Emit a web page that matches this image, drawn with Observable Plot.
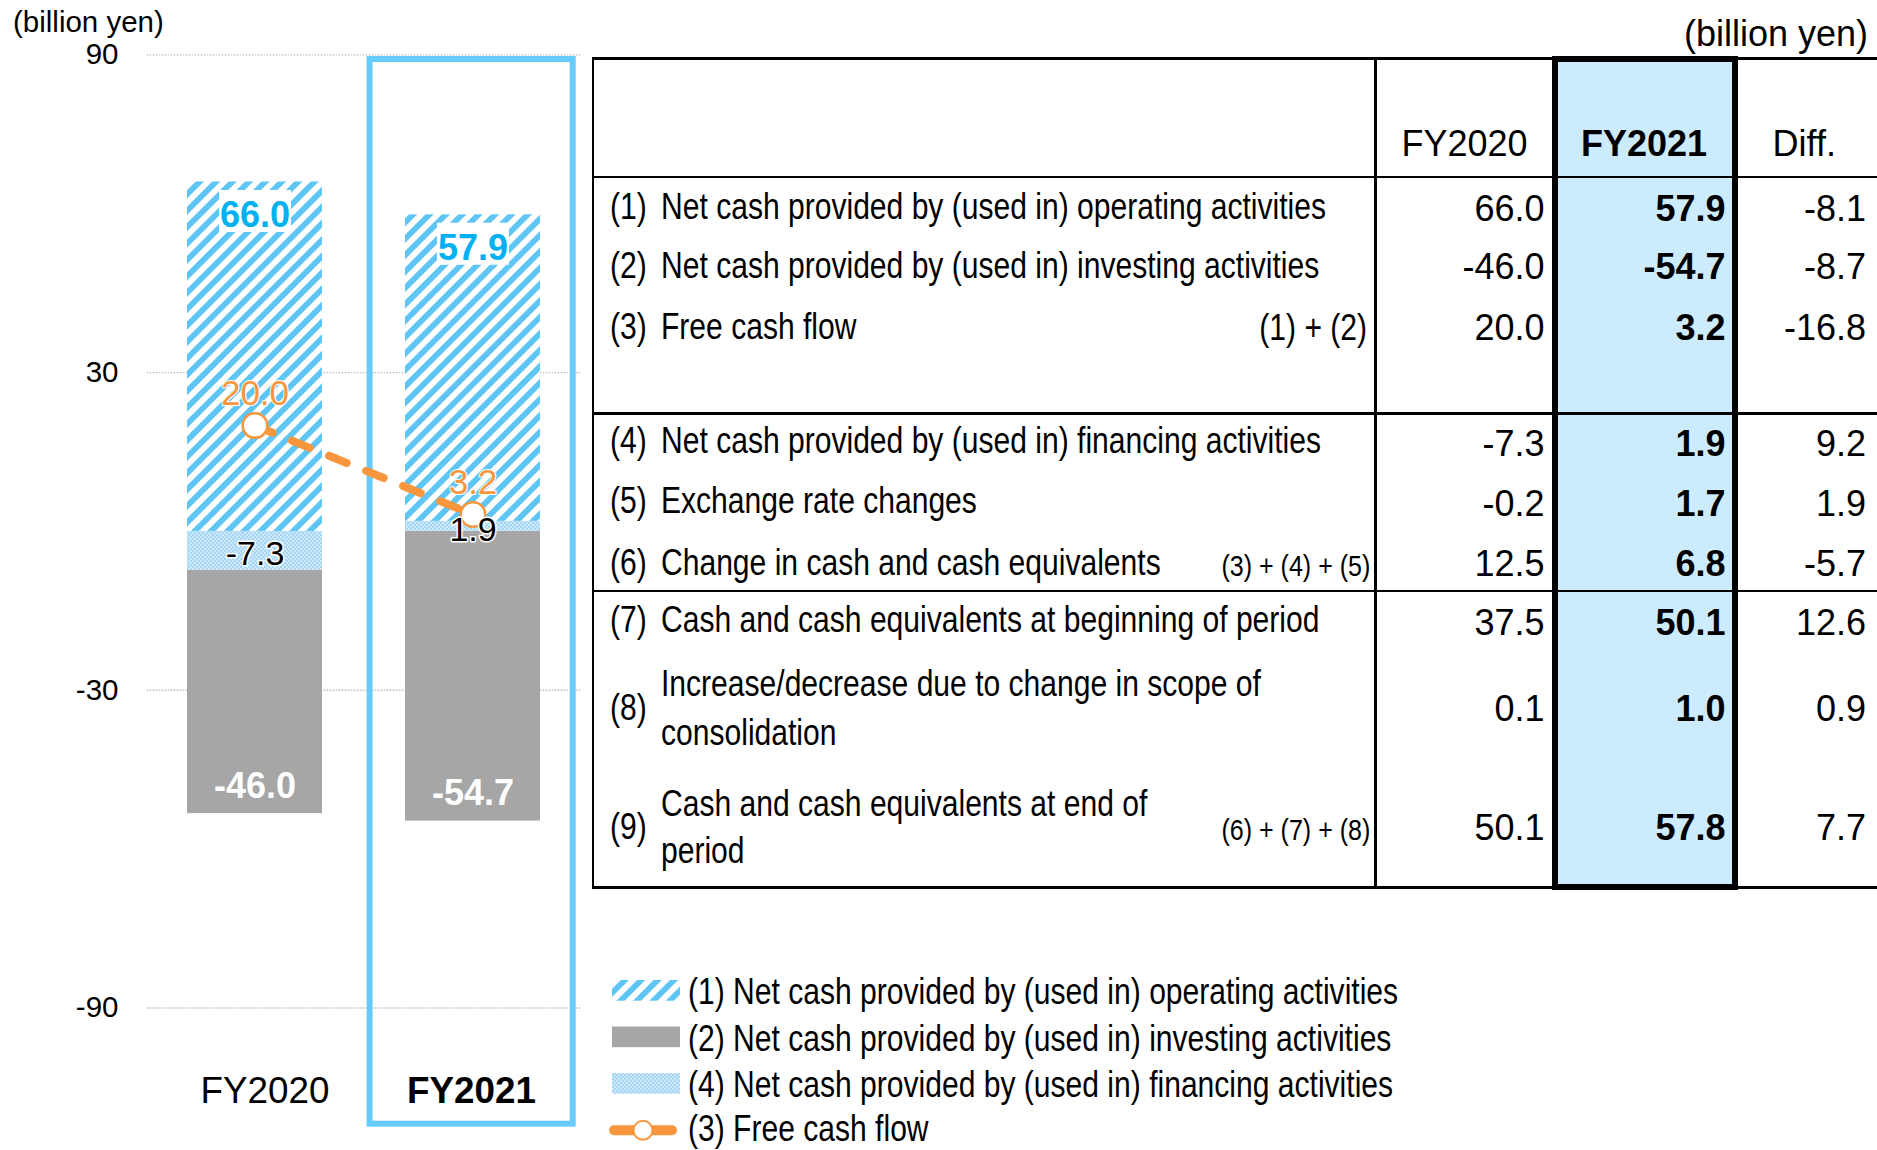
<!DOCTYPE html>
<html>
<head>
<meta charset="utf-8">
<script src="https://cdn.jsdelivr.net/npm/d3@7"></script>
<script src="https://cdn.jsdelivr.net/npm/@observablehq/plot@0.6"></script>
<style>
html, body { margin: 0; padding: 0; background: #fff; }
#root { position: relative; width: 1877px; height: 1150px; overflow: hidden;
  font-family: "Liberation Sans", Arial, Helvetica, sans-serif; color: #000; background: #fff; }
#chart { position: absolute; left: 0; top: 0; }
.t { position: absolute; white-space: pre; }
</style>
</head>
<body>
<div id="root"><div id="chart"></div></div>
<script>
// ---------------- Chart data ----------------
const categories = ["FY2020", "FY2021"];
const highlightCategory = "FY2021";
const operatingCF = [66.0, 57.9];
const investingCF = [-46.0, -54.7];
const financingCF = [-7.3, 1.9];
const freeCF = [20.0, 3.2];
const yDomain = [-90, 90];
const yTicks = [90, 30, -30, -90];
const seriesKeys = ["operating", "investing", "financing"];
const stackOrder = ["financing", "operating", "investing"];
const unitLabel = "(billion yen)";

// ---------------- Table data ----------------
const tableHeaders = ["FY2020", "FY2021", "Diff."];
const rowNumbers = ["(1)", "(2)", "(3)", "(4)", "(5)", "(6)", "(7)", "(8)", "(9)"];
const rowLabels = [
  "Net cash provided by (used in) operating activities",
  "Net cash provided by (used in) investing activities",
  "Free cash flow",
  "Net cash provided by (used in) financing activities",
  "Exchange rate changes",
  "Change in cash and cash equivalents",
  "Cash and cash equivalents at beginning of period",
  "Increase/decrease due to change in scope of\nconsolidation",
  "Cash and cash equivalents at end of\nperiod"
];
const rowFormulas = ["", "", "(1) + (2)", "", "", "(3) + (4) + (5)", "", "", "(6) + (7) + (8)"];
const colFY2020 = ["66.0", "-46.0", "20.0", "-7.3", "-0.2", "12.5", "37.5", "0.1", "50.1"];
const colFY2021 = ["57.9", "-54.7", "3.2", "1.9", "1.7", "6.8", "50.1", "1.0", "57.8"];
const colDiff = ["-8.1", "-8.7", "-16.8", "9.2", "1.9", "-5.7", "12.6", "0.9", "7.7"];

// ---------------- Legend ----------------
const legendLabels = [
  "(1) Net cash provided by (used in) operating activities",
  "(2) Net cash provided by (used in) investing activities",
  "(4) Net cash provided by (used in) financing activities",
  "(3) Free cash flow"
];

// ---------------- Styles ----------------
const STRIPE = "#5ec5f5", GRAY = "#a6a6a6", DOTBG = "#a6d6f5", ORANGE = "#f7963c",
      LBLUE = "#00b0f0", FRAME = "#66ccff", TFILL = "#ccecfe";
const NARROW = 0.835;
const HP = 11.6; // hatch period

function patternDefs(sel, prefix) {
  const defs = sel.append("defs");
  const h = defs.append("pattern").attr("id", prefix + "hatch")
    .attr("patternUnits", "userSpaceOnUse").attr("width", HP).attr("height", HP)
    .attr("patternTransform", "rotate(45)");
  h.append("rect").attr("width", HP).attr("height", HP).attr("fill", "#fff");
  h.append("rect").attr("width", HP * 0.5).attr("height", HP).attr("fill", STRIPE);
  const d = defs.append("pattern").attr("id", prefix + "dots")
    .attr("patternUnits", "userSpaceOnUse").attr("width", 4).attr("height", 4);
  d.append("rect").attr("width", 4).attr("height", 4).attr("fill", DOTBG);
  d.append("circle").attr("cx", 1).attr("cy", 1).attr("r", 0.8).attr("fill", "#fff");
  d.append("circle").attr("cx", 3).attr("cy", 3).attr("r", 0.8).attr("fill", "#fff");
}

// ---------------- Build chart ----------------
const seriesValues = {operating: operatingCF, investing: investingCF, financing: financingCF};
const barData = categories.flatMap((c, i) =>
  seriesKeys.map(s => ({category: c, series: s, value: seriesValues[s][i]})));
const fcfData = categories.map((c, i) => ({category: c, value: freeCF[i]}));
const stackOpts = {x: "category", y: "value", z: "series", order: stackOrder};
const fmt = d => d.value.toFixed(1);
const labelBox = {draw(ctx) { ctx.rect(-36, -21, 72, 42); }};

const chart = Plot.plot({
  width: 600,
  height: 1150,
  marginLeft: 146.7,
  marginRight: 19,
  marginTop: 54.4,
  marginBottom: 142.5,
  style: {fontFamily: "'Liberation Sans', Arial, sans-serif", background: "transparent", color: "#000", overflow: "visible"},
  x: {type: "band", domain: categories, paddingInner: 0.38, paddingOuter: 0.186, axis: null},
  y: {domain: yDomain, axis: null},
  color: {type: "ordinal", domain: seriesKeys, range: ["url(#c-hatch)", GRAY, "url(#c-dots)"]},
  marks: [
    () => { const g = d3.create("svg:g"); patternDefs(g, "c-"); return g.node(); },
    Plot.ruleY(yTicks, {stroke: "#bcbcbc", strokeWidth: 1.4, strokeDasharray: "1.5,1.5"}),
    Plot.axisY({ticks: yTicks, tickSize: 0, tickPadding: 28.7, fontSize: 29.5, label: null, tickFormat: d => String(d)}),
    Plot.barY(barData, Plot.stackY({...stackOpts, fill: "series"})),
    Plot.barY([highlightCategory], {x: d => d, y1: () => yDomain[0], y2: () => yDomain[1],
      fill: "none", stroke: FRAME, strokeWidth: 6,
      insetLeft: -35.4, insetRight: -32.7, insetTop: 4.6, insetBottom: -116.2}),
    // operating labels (boxed)
    Plot.dot(barData, Plot.filter(d => d.series === "operating",
      Plot.stackY2({...stackOpts, symbol: labelBox, fill: "white", stroke: "none", dy: 29}))),
    Plot.text(barData, Plot.filter(d => d.series === "operating",
      Plot.stackY2({...stackOpts, text: fmt, fill: LBLUE, fontWeight: "bold", fontSize: 36,
        lineAnchor: "bottom", dy: 45}))),
    // investing labels
    Plot.text(barData, Plot.filter(d => d.series === "investing",
      Plot.stackY2({...stackOpts, text: fmt, fill: "white", fontWeight: "bold", fontSize: 36,
        lineAnchor: "bottom", dy: -16}))),
    // free cash flow line
    Plot.line(fcfData, {x: "category", y: "value", stroke: ORANGE, strokeWidth: 8,
      strokeDasharray: "19,21", strokeLinecap: "round"}),
    Plot.dot(fcfData, {x: "category", y: "value", r: 12.3, fill: "white", stroke: ORANGE, strokeWidth: 2.5}),
    Plot.text(fcfData, {x: "category", y: "value", text: fmt, fill: ORANGE, fontSize: 35,
      lineAnchor: "bottom", dy: -20.5, stroke: "white", strokeWidth: 2}),
    // financing labels
    Plot.text(barData, Plot.filter(d => d.series === "financing",
      Plot.stackY({...stackOpts, text: fmt, fill: "black", fontSize: 34,
        lineAnchor: "bottom", dy: 14.7, stroke: "white", strokeWidth: 3}))),
    // category labels
    Plot.text(categories, {filter: d => d !== highlightCategory, x: d => d, text: d => d,
      frameAnchor: "bottom", lineAnchor: "bottom", dy: 95.2, dx: 10, fontSize: 36.8}),
    Plot.text(categories, {filter: d => d === highlightCategory, x: d => d, text: d => d,
      frameAnchor: "bottom", lineAnchor: "bottom", dy: 95.2, dx: -1.6, fontSize: 36.8, fontWeight: "bold"})
  ]
});
document.getElementById("chart").appendChild(chart);

// ---------------- HTML helpers ----------------
const W = 1877;
const root = document.getElementById("root");
function place(text, x, base, o = {}) {
  const size = o.size || 36, sx = o.sx || 1, anchor = o.anchor || "start";
  const d = document.createElement("div");
  d.className = "t";
  d.textContent = text;
  d.style.fontSize = size + "px";
  d.style.lineHeight = size + "px";
  d.style.top = (base - 0.8465 * size) + "px";
  if (o.weight) d.style.fontWeight = o.weight;
  if (o.color) d.style.color = o.color;
  const tf = [];
  if (anchor === "start") { d.style.left = x + "px"; d.style.transformOrigin = "0 50%"; }
  else if (anchor === "end") { d.style.right = (W - x) + "px"; d.style.transformOrigin = "100% 50%"; }
  else { d.style.left = x + "px"; tf.push("translateX(-50%)"); }
  if (sx !== 1) tf.push(`scaleX(${sx})`);
  if (tf.length) d.style.transform = tf.join(" ");
  root.appendChild(d);
  return d;
}
function box(x, y, w, h, css) {
  const d = document.createElement("div");
  d.style.position = "absolute";
  d.style.left = x + "px"; d.style.top = y + "px";
  d.style.width = w + "px"; d.style.height = h + "px";
  d.style.boxSizing = "border-box";
  Object.assign(d.style, css || {});
  root.appendChild(d);
  return d;
}
const hline = (x1, x2, y, t) => box(x1, y, x2 - x1, t, {background: "#000"});
const vline = (x, y1, y2, t) => box(x, y1, t, y2 - y1, {background: "#000"});

// unit labels
place(unitLabel, 13, 31.5, {size: 29.5});
place(unitLabel, 1868, 46.7, {size: 36, anchor: "end"});

// ---------------- Table ----------------
box(1552, 56, 186, 834, {background: TFILL});
hline(592, 1877, 57, 3);
hline(592, 1877, 175.7, 2.8);
hline(592, 1877, 412.3, 2.5);
hline(592, 1877, 589.5, 2.5);
hline(592, 1877, 886.3, 2.5);
vline(591.5, 57, 888.8, 2.5);
vline(1374.3, 57, 888.8, 2.5);
box(1552, 56, 186, 834, {border: "6px solid #000"});

place(tableHeaders[0], 1464.6, 156.7, {anchor: "middle"});
place(tableHeaders[1], 1644, 156.7, {anchor: "middle", weight: "bold"});
place(tableHeaders[2], 1804.3, 156.7, {anchor: "middle"});

const valueBase = [221.5, 279.5, 340, 456.7, 516, 576, 635, 721.7, 840];
const labelBase = [219, 278, 339, 453.5, 513.5, 575, 632];
const twoLineBase = {7: [696.7, 745], 8: [816.7, 863.3]};

rowLabels.forEach((lab, i) => {
  const lines = lab.split("\n");
  if (lines.length === 1) {
    place(rowNumbers[i], 610, labelBase[i], {sx: NARROW});
    place(lab, 661.4, labelBase[i], {sx: NARROW});
  } else {
    place(rowNumbers[i], 610, valueBase[i] - 1, {sx: NARROW});
    lines.forEach((ln, k) => place(ln, 661.4, twoLineBase[i][k], {sx: NARROW}));
  }
  if (rowFormulas[i]) {
    const small = rowFormulas[i].length > 10;
    place(rowFormulas[i], small ? 1370 : 1367, valueBase[i], {sx: NARROW, size: small ? 30 : 36, anchor: "end"});
  }
  place(colFY2020[i], 1544.5, valueBase[i], {anchor: "end"});
  place(colFY2021[i], 1725.5, valueBase[i], {anchor: "end", weight: "bold"});
  place(colDiff[i], 1866, valueBase[i], {anchor: "end"});
});

// ---------------- Legend ----------------
const lg = d3.select(root).append("svg")
  .style("position", "absolute").style("left", "600px").style("top", "968px")
  .attr("width", 100).attr("height", 182);
patternDefs(lg, "l-");
const swatchFill = ["url(#l-hatch)", GRAY, "url(#l-dots)"];
const swatchTop = [12, 58.5, 105];
swatchFill.forEach((f, i) => lg.append("rect").attr("x", 12).attr("y", swatchTop[i])
  .attr("width", 68).attr("height", 20.7).attr("fill", f));
lg.append("line").attr("x1", 14).attr("x2", 72).attr("y1", 162.3).attr("y2", 162.3)
  .attr("stroke", ORANGE).attr("stroke-width", 10).attr("stroke-linecap", "round");
lg.append("circle").attr("cx", 43).attr("cy", 162.3).attr("r", 9.5)
  .attr("fill", "#fff").attr("stroke", ORANGE).attr("stroke-width", 2);
const legendBase = [1004.5, 1051.2, 1097.5, 1141.5];
legendLabels.forEach((t, i) => place(t, 688.3, legendBase[i], {sx: NARROW}));
</script>
</body>
</html>
